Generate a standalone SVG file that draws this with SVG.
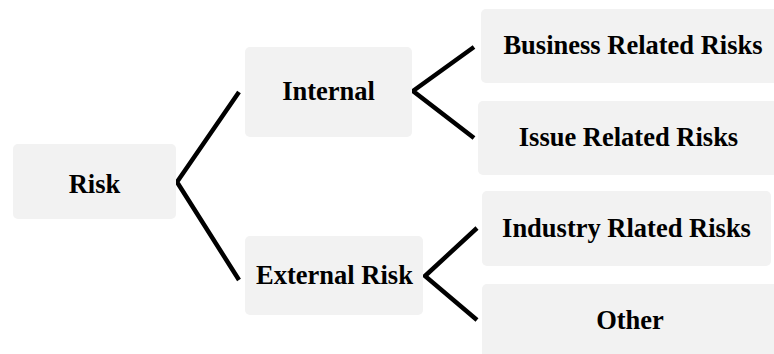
<svg xmlns="http://www.w3.org/2000/svg" width="774" height="354" viewBox="0 0 774 354">
<style>
.box{fill:#f2f2f2;}
.lbl{font-family:"Liberation Serif","Times New Roman",serif;font-weight:bold;font-size:26.5px;fill:#000;text-anchor:middle;}
.conn{fill:none;stroke:#000;stroke-width:4.5;stroke-linejoin:miter;}
</style>
<rect width="774" height="354" fill="#fff"/>
<g id="connectors">
<polyline class="conn" points="239,92 177,182 239,280"/>
<polyline class="conn" points="474,47 413,91 474,138"/>
<polyline class="conn" points="477,228 425,276 477,320"/>
</g>
<g id="risk"><rect class="box" x="13" y="144" width="163" height="75" rx="5"/><text class="lbl" x="94.5" y="193">Risk</text></g>
<g id="internal"><rect class="box" x="245" y="47" width="167" height="90" rx="5"/><text class="lbl" x="328.5" y="100">Internal</text></g>
<g id="external"><rect class="box" x="245" y="236" width="178" height="79" rx="5"/><text class="lbl" x="334.5" y="284">External Risk</text></g>
<g id="business"><rect class="box" x="481" y="9" width="304" height="74" rx="5"/><text class="lbl" x="633" y="54">Business Related Risks</text></g>
<g id="issue"><rect class="box" x="478" y="101" width="301" height="74" rx="5"/><text class="lbl" x="628.5" y="146">Issue Related Risks</text></g>
<g id="industry"><rect class="box" x="482" y="191" width="289" height="75" rx="5"/><text class="lbl" x="626.5" y="237">Industry Rlated Risks</text></g>
<g id="other"><rect class="box" x="482" y="284" width="296" height="80" rx="5"/><text class="lbl" x="630" y="329">Other</text></g>
</svg>
